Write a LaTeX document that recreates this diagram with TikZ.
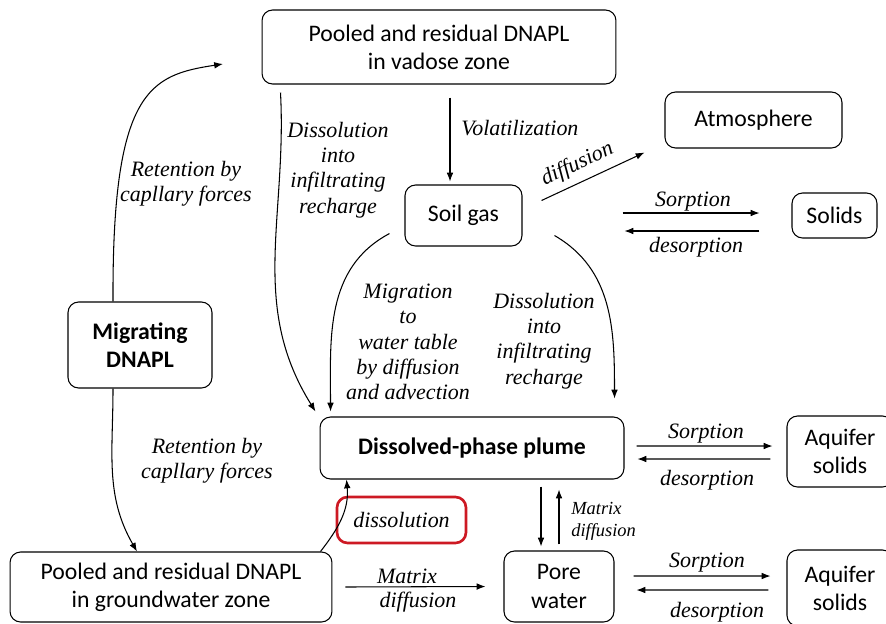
\documentclass[tikz,border=0pt]{standalone}
\usepackage{fontspec}
\setmainfont{Carlito}
\newfontfamily\timesfont{Liberation Serif}
\usetikzlibrary{arrows.meta}
\definecolor{boxred}{RGB}{205,25,35}
\tikzset{box/.style = {draw, rounded corners = 6pt, align = center, inner sep = 2pt,
                       font = \fontsize{13.5}{16}\selectfont}}
\tikzset{redbox/.style = {draw = boxred, line width = 1.5pt, rounded corners = 6pt,
                          font = \timesfont\itshape\fontsize{12.5}{14.4}\selectfont}}
\tikzset{lbl/.style = {align = center, inner sep = 1pt,
                       font = \timesfont\itshape\fontsize{12.5}{14.4}\selectfont}}
\tikzset{arr/.style = {-{Latex[length = 5pt, width = 3.8pt]}}}

\begin{document}
\begin{tikzpicture}[x = 0.02cm, y = -0.02cm, line width = 0.6pt]
      \useasboundingbox (0, 0) rectangle (886, 623);
      % boxes
      \node [box, minimum width = 7.08cm, minimum height = 1.48cm] (vadose) at (439, 47) {Pooled and residual DNAPL\\ in vadose zone};
      \node [box, minimum width = 3.54cm, minimum height = 1.12cm] (atmo) at (753.5, 120) {Atmosphere};
      \node [box, minimum width = 2.34cm, minimum height = 1.22cm] (soil) at (463.5, 215.5) {Soil gas};
      \node [box, minimum width = 1.7cm, minimum height = 0.9cm] (solids) at (834.5, 215.5) {Solids};
      \node [box, minimum width = 2.88cm, minimum height = 1.72cm, font = \bfseries\fontsize{13.5}{16}\selectfont] (migr) at (140, 345) {Migrating\\ DNAPL};
      \node [box, minimum width = 6.08cm, minimum height = 1.24cm, font = \bfseries\fontsize{13.5}{16}\selectfont] (plume) at (472, 448) {Dissolved-phase plume};
      \node [box, minimum width = 2.12cm, minimum height = 1.42cm] (aqtop) at (840, 451.5) {Aquifer\\ solids};
      \node [box, minimum width = 2.12cm, minimum height = 1.52cm] (aqbot) at (840, 588) {Aquifer\\ solids};
      \node [box, minimum width = 2.2cm, minimum height = 1.42cm] (pore) at (559, 586.5) {Pore\\ water};
      \node [box, minimum width = 6.44cm, minimum height = 1.4cm] (gw) at (171, 587) {Pooled and residual DNAPL\\ in groundwater zone};
      \node [redbox, minimum width = 2.58cm, minimum height = 0.92cm] (dissbox) at (401.5, 520) {dissolution};
      \coordinate (retend) at (223, 64);

      % retention
      \draw [arr] ([xshift = -0.54cm]migr.north) .. controls (112, 90) and (150, 75) .. (retend);
      \node [lbl] (retup) at (186, 184) {Retention by\\ capllary forces};
      \draw [arr] ([xshift = -0.54cm]migr.south) to [out = -90, in = 120] ([xshift = -0.68cm]gw.north);
      \node [lbl] (retdown) at (207, 461) {Retention by\\ capllary forces};

      % vadose zone
      \draw [arr] ([xshift = 0.38cm, yshift = -0.16cm]vadose.south west) to [out = -87, in = 122] ([xshift = -0.08cm, yshift = 0.1cm]plume.north west);
      \node [lbl] (disstop) at (338, 170) {Dissolution\\ into\\ infiltrating\\ recharge};
      \draw [arr] ([xshift = 0.22cm, yshift = -0.26cm]vadose.south) -- ([xshift = 0.22cm, yshift = 0.06cm]vadose.south |- soil.north);
      \node [lbl, anchor = west] (volat) at (459, 128) {Volatilization};

      % soil gas
      \draw [arr] ([xshift = 0.38cm, yshift = 0.3cm]soil.east) -- node [lbl, sloped, above = 3pt, pos = 0.42] (diffl) {diffusion} ([xshift = -0.4cm, yshift = -0.08cm]atmo.south west);
      \draw [arr] ([xshift = 2cm, yshift = 0.05cm]soil.east) -- ([xshift = -0.64cm, yshift = 0.05cm]solids.west);
      \draw [arr] ([xshift = -0.64cm, yshift = -0.31cm]solids.west) -- ([xshift = 2.04cm, yshift = -0.31cm]soil.east);
      \node [lbl] (sorpa) at (693, 202) {Sorption};
      \node [lbl] (desorpa) at (696, 247) {desorption};
      \draw [arr] ([xshift = -0.3cm, yshift = 0.26cm]soil.south west) to [out = 208, in = 90] ([xshift = 0.22cm, yshift = 0.1cm]plume.north west);
      \node [lbl] (migrl) at (408, 342) {Migration\\ to\\ water table\\ by diffusion\\ and advection};
      \draw [arr] ([xshift = 0.64cm, yshift = 0.22cm]soil.south east) to [out = -30, in = 90] ([xshift = -0.2cm, yshift = 0.36cm]plume.north east);
      \node [lbl] (dissright) at (544, 341) {Dissolution\\ into\\ infiltrating\\ recharge};

      % plume
      \draw [arr] ([xshift = 0.24cm, yshift = 0.04cm]plume.east) -- ([xshift = -0.28cm, yshift = 0.11cm]aqtop.west);
      \draw [arr] ([xshift = -0.32cm, yshift = -0.15cm]aqtop.west) -- ([xshift = 0.26cm, yshift = -0.22cm]plume.east);
      \node [lbl] (sorpb) at (706, 434) {Sorption};
      \node [lbl] (desorpb) at (707, 480) {desorption};
      \draw [arr] ([xshift = -0.36cm, yshift = -0.14cm]pore.north |- plume.south) -- ([xshift = -0.36cm, yshift = 0.08cm]pore.north);
      \draw [arr] ([yshift = 0.12cm]pore.north) -- ([yshift = -0.2cm]pore.north |- plume.south);
      \node [lbl, anchor = west, align = left, font = \timesfont\itshape\fontsize{10.5}{12.5}\selectfont] (matsmall) at (569, 521) {Matrix\\ diffusion};

      % groundwater zone
      \draw [arr] ([xshift = -0.24cm]gw.north east) to [out = 52, in = -85] ([xshift = 0.54cm]plume.south west);
      \draw [arr] ([xshift = 0.26cm]gw.east) -- ([xshift = -0.36cm]pore.west);
      \node [lbl] (matrix) at (407, 576) {Matrix};
      \node [lbl] (matdiff) at (418, 602) {diffusion};

      % pore water
      \draw [arr] ([xshift = 0.38cm, yshift = 0.21cm]pore.east) -- ([xshift = -0.32cm, yshift = 0.24cm]aqbot.west);
      \draw [arr] ([xshift = -0.36cm, yshift = -0.04cm]aqbot.west) -- ([xshift = 0.44cm, yshift = -0.07cm]pore.east);
      \node [lbl] (sorpc) at (707, 563) {Sorption};
      \node [lbl] (desorpc) at (717, 612) {desorption};
\end{tikzpicture}
\end{document}
